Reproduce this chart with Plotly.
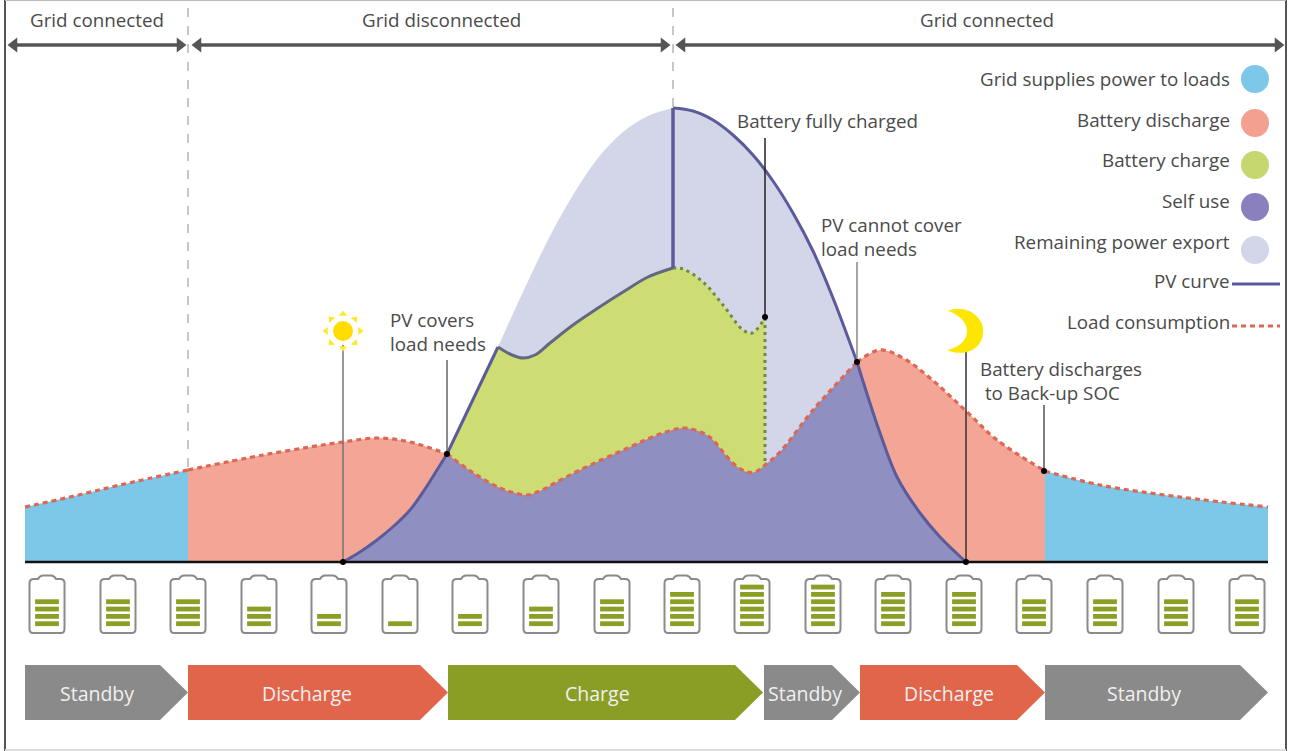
import plotly.graph_objects as go

# ---------- data (x = position along the day, y = power) ----------
grid_am_x = [25, 70, 120, 188]
grid_am_y = [55, 65, 77, 92]
discharge_am_x = [188, 263, 310, 343, 377, 410, 447]
discharge_am_y = [92, 107, 115, 120, 124, 120, 108]
load_day_x = [447, 475, 500, 515, 527, 540, 555, 580, 630, 660, 683, 695, 705, 713, 723, 735, 747, 755, 765, 780, 813, 857]
load_day_y = [108, 88, 74, 69, 67, 71, 79, 92, 115, 128, 134, 132, 128, 122, 110, 97, 90, 90, 97, 110, 152, 200]
discharge_pm_x = [857, 880, 903, 930, 965, 997, 1045]
discharge_pm_y = [200, 212, 204, 184, 152, 122, 91]
grid_pm_x = [1045, 1100, 1180, 1268]
grid_pm_y = [91, 77, 65, 55]
pv_rise_x = [343, 360, 377, 395, 410, 425, 437, 447]
pv_rise_y = [0, 10, 22, 37, 52, 73, 92, 108]
pv_ramp_x = [447, 498]
pv_ramp_y = [108, 215]
charge_top_x = [498, 512, 523, 535, 550, 573, 598, 623, 648, 673]
charge_top_y = [215, 207, 204, 207, 219, 237, 254, 270, 285, 294]
charge_fall_x = [673, 683, 703, 723, 743, 752, 765]
charge_fall_y = [294, 293, 280, 257, 232, 229, 244]
export_left_x = [498, 523, 548, 573, 598, 623, 648, 673]
export_left_y = [215, 270, 322, 367, 404, 430, 446, 454]
pv_fall_x = [673, 693, 713, 733, 753, 773, 793, 813, 833, 857]
pv_fall_y = [454, 451, 442, 427, 407, 381, 349, 311, 264, 200]
pv_tail_x = [857, 868, 880, 897, 920, 940, 966]
pv_tail_y = [200, 165, 129, 85, 49, 25, 0]

battery_levels = [4, 4, 4, 3, 2, 1, 2, 3, 4, 5, 6, 6, 5, 5, 4, 4, 4, 4]
battery_x = [47, 118, 188, 259, 329, 400, 470, 541, 612, 682, 752, 823, 893, 964, 1034, 1105, 1176, 1247]

mode_labels = ["Standby", "Discharge", "Charge", "Standby", "Discharge", "Standby"]
mode_start = [25, 188, 448, 764, 860, 1045]
mode_end = [188, 448, 763, 860, 1045, 1268]
mode_text_x = [97, 307, 597, 805, 949, 1144]

legend_labels = ["Grid supplies power to loads", "Battery discharge", "Battery charge", "Self use", "Remaining power export"]

# ---------- styles ----------
BLUE, RED, GREEN, PURPLE, LAV = "#7DC8E8", "#F3A696", "#CDDD74", "#8F8FC1", "#D3D5E9"
PV = "#5B5B9B"
LOADC = "#DE6652"
TXT = "#4A4A4A"
FONT = "Open Sans"
FS = 18.8


def Y(py):
    return 562 - py


fig = go.Figure()


def area(x, y, fill, line=None):
    fig.add_trace(go.Scatter(x=x, y=y, mode="lines", fill="tozeroy", fillcolor=fill,
                             line=dict(shape="spline", smoothing=1, **(line or dict(width=0, color=fill)))))


def line(x, y, color, width, dash="solid", spline=False):
    fig.add_trace(go.Scatter(x=x, y=y, mode="lines",
                             line=dict(color=color, width=width, dash=dash,
                                       shape="spline" if spline else "linear", smoothing=1)))


LOAD_LINE = dict(color=LOADC, width=3.2, dash="5px,4px")
GDOT = "3px,4px"

area(export_left_x, export_left_y, LAV)
area(pv_fall_x, pv_fall_y, LAV)
area(grid_am_x, grid_am_y, BLUE, LOAD_LINE)
area(discharge_am_x, discharge_am_y, RED, LOAD_LINE)
area(discharge_pm_x, discharge_pm_y, RED, LOAD_LINE)
area(grid_pm_x, grid_pm_y, BLUE, LOAD_LINE)
area(pv_ramp_x, pv_ramp_y, GREEN)
area(charge_top_x, charge_top_y, GREEN)
area(charge_fall_x, charge_fall_y, GREEN)
area(pv_rise_x, pv_rise_y, PURPLE)
area(load_day_x, load_day_y, PURPLE, LOAD_LINE)
area(pv_tail_x, pv_tail_y, PURPLE)

# curves
line(pv_rise_x, pv_rise_y, PV, 3, spline=True)
line(pv_ramp_x, pv_ramp_y, PV, 3)
line(charge_top_x, charge_top_y, "#62687F", 3, spline=True)
line(charge_fall_x, charge_fall_y, "#6E8A3C", 3, GDOT, spline=True)
line([charge_fall_x[-1], charge_fall_x[-1]], [charge_fall_y[-1], 97], "#6E8A3C", 3, GDOT)
line([charge_top_x[-1], export_left_x[-1]], [charge_top_y[-1], export_left_y[-1]], PV, 3.5)
line(pv_fall_x, pv_fall_y, PV, 3, spline=True)
line(pv_tail_x, pv_tail_y, PV, 3, spline=True)

# baseline
line([25, 1268], [0, 0], "#111111", 2.5)

# dashed grid boundaries
line([188, 188], [Y(8), Y(471)], "#B5B5B5", 1.5, "dash")
line([673, 673], [Y(8), Y(108)], "#B5B5B5", 1.5, "dash")

# grid-state arrows
for x0, x1 in [(8, 186), (192, 670), (676, 1284)]:
    line([x0 + 6, x1 - 6], [Y(45), Y(45)], "#555555", 3.5)
    fig.add_trace(go.Scatter(x=[x0 + 6, x1 - 6], y=[Y(45), Y(45)], mode="markers",
                             marker=dict(symbol=["triangle-left", "triangle-right"], size=13, color="#555555")))

# leaders and dots
leaders = [(343, 345, 562, "#7A7272"), (447, 360, 454, "#666666"), (765, 138, 317, "#222222"),
           (857, 262, 362, "#888888"), (966, 352, 562, "#333333"), (1044, 405, 471, "#555555")]
for lx, p0, p1, c in leaders:
    line([lx, lx], [Y(p0), Y(p1)], c, 1.5)
fig.add_trace(go.Scatter(x=[l[0] for l in leaders], y=[Y(l[2]) for l in leaders], mode="markers",
                         marker=dict(color="black", size=6)))

# sun
ray_dx = [0, 12, 17, 12, 0, -12, -17, -12]
ray_dy = [17, 12, 0, -12, -17, -12, 0, 12]
ray_angle = [0, 45, 90, 135, 180, 225, 270, 315]
fig.add_trace(go.Scatter(x=[343 + d for d in ray_dx], y=[Y(331) + d for d in ray_dy], mode="markers",
                         marker=dict(symbol="triangle-up", size=7, color="#FFE92E", angle=ray_angle)))
fig.add_trace(go.Scatter(x=[343], y=[Y(331)], mode="markers",
                         marker=dict(symbol="circle", size=20, color="#FFDD00")))

shapes = []


def path(cmds):
    out = []
    for c in cmds:
        if isinstance(c, str):
            out.append(c)
        else:
            out.append(f"{c[0]},{Y(c[1])}")
    return " ".join(out)


# moon
shapes.append(dict(type="path", xref="x", yref="y", fillcolor="#FFE600", line=dict(width=0), path=path([
    "M", (948, 311), "C", (966, 303), (985, 318), (983, 332), "C", (983, 348), (966, 358), (947, 350),
    "C", (958, 348), (967, 341), (967, 331), "C", (967, 322), (958, 314), (948, 311), "Z"])))

# batteries
for bx in battery_x:
    shapes.append(dict(type="path", xref="x", yref="y", layer="below", fillcolor="white",
                       line=dict(color="#8A8A8A", width=2),
                       path=path(["M", (bx - 14, 633), "Q", (bx - 17.5, 633), (bx - 17.5, 629),
                                  "L", (bx - 17.5, 583), "Q", (bx - 17.5, 579), (bx - 13, 579),
                                  "L", (bx - 9, 579), "Q", (bx - 7, 575.5), (bx - 4, 575.5),
                                  "L", (bx + 4, 575.5), "Q", (bx + 7, 575.5), (bx + 9, 579),
                                  "L", (bx + 13, 579), "Q", (bx + 17.5, 579), (bx + 17.5, 583),
                                  "L", (bx + 17.5, 629), "Q", (bx + 17.5, 633), (bx + 14, 633), "Z"])))
bar_x, bar_y = [], []
for bx, n in zip(battery_x, battery_levels):
    for k in range(n):
        bar_x.append(bx)
        bar_y.append(Y(623.7 - 7.33 * k))
fig.add_trace(go.Scatter(x=bar_x, y=bar_y, mode="markers",
                         marker=dict(symbol="line-ew", size=17, line=dict(color="#8B9E26", width=4.8))))

# mode chevrons
mode_colors = {"Standby": "#8A8A8A", "Discharge": "#E0654A", "Charge": "#8A9E25"}
annotations = []
for lab, a, b, tx in zip(mode_labels, mode_start, mode_end, mode_text_x):
    fig.add_trace(go.Scatter(x=[a, b - 28, b, b - 28, a, a], y=[Y(665), Y(665), Y(692.5), Y(720), Y(720), Y(665)],
                             mode="lines", fill="toself", fillcolor=mode_colors[lab], line=dict(width=0)))
    annotations.append(dict(x=tx, y=Y(693), text=lab, xanchor="center",
                            font=dict(color="#F0F0F0", size=19.5, family=FONT)))

# legend circles and keys
fig.add_trace(go.Scatter(x=[1255] * 5, y=[Y(79), Y(123), Y(165), Y(207), Y(250)], mode="markers",
                         marker=dict(size=28, color=[BLUE, "#F3A090", "#C5D76E", "#8A80BD", LAV])))
line([1232, 1280], [Y(284), Y(284)], PV, 3)
line([1232, 1280], [Y(326), Y(326)], LOADC, 3, "5px,4px")

for txt, py in zip(legend_labels, [79, 120, 160, 201, 242]):
    annotations.append(dict(x=1231, y=Y(py), text=txt, xanchor="right", font=dict(color=TXT, size=FS, family=FONT)))
annotations.append(dict(x=1231, y=Y(281), text="PV curve", xanchor="right", font=dict(color=TXT, size=FS, family=FONT)))
annotations.append(dict(x=1231, y=Y(322), text="Load consumption", xanchor="right", font=dict(color=TXT, size=FS, family=FONT)))

# header and callouts
for txt, cx in [("Grid connected", 97), ("Grid disconnected", 441), ("Grid connected", 987)]:
    annotations.append(dict(x=cx, y=Y(20), text=txt, xanchor="center", font=dict(color=TXT, size=FS, family=FONT)))
for txt, lx, py in [("Battery fully charged", 736, 121), ("PV covers<br>load needs", 389, 331.5),
                    ("PV cannot cover<br>load needs", 820, 237), ("Battery discharges<br> to Back-up SOC", 979, 381)]:
    annotations.append(dict(x=lx, y=Y(py), text=txt, xanchor="left", align="left",
                            font=dict(color=TXT, size=FS, family=FONT)))
for a in annotations:
    a.update(xref="x", yref="y", showarrow=False, yanchor="middle", borderpad=0)

# frame
frame = [("#555555", 5, 0, 5, 751), ("#555555", 1286, 0, 1286, 751), ("#DDDDDD", 5, 750, 1286, 750), ("#BBBBBB", 5, 0, 1286, 0)]
for c, x0, p0, x1, p1 in frame:
    shapes.append(dict(type="line", xref="x", yref="y", x0=x0, x1=x1, y0=Y(p0), y1=Y(p1), line=dict(color=c, width=2)))

fig.update_layout(width=1289, height=751, margin=dict(l=0, r=0, t=0, b=0), showlegend=False,
                  plot_bgcolor="white", paper_bgcolor="white", shapes=shapes, annotations=annotations,
                  xaxis=dict(visible=False, range=[0, 1289], fixedrange=True),
                  yaxis=dict(visible=False, range=[Y(751), Y(0)], fixedrange=True))
fig.write_html("out.html", config=dict(displayModeBar=False),
               post_script="document.body.style.margin='0';")
